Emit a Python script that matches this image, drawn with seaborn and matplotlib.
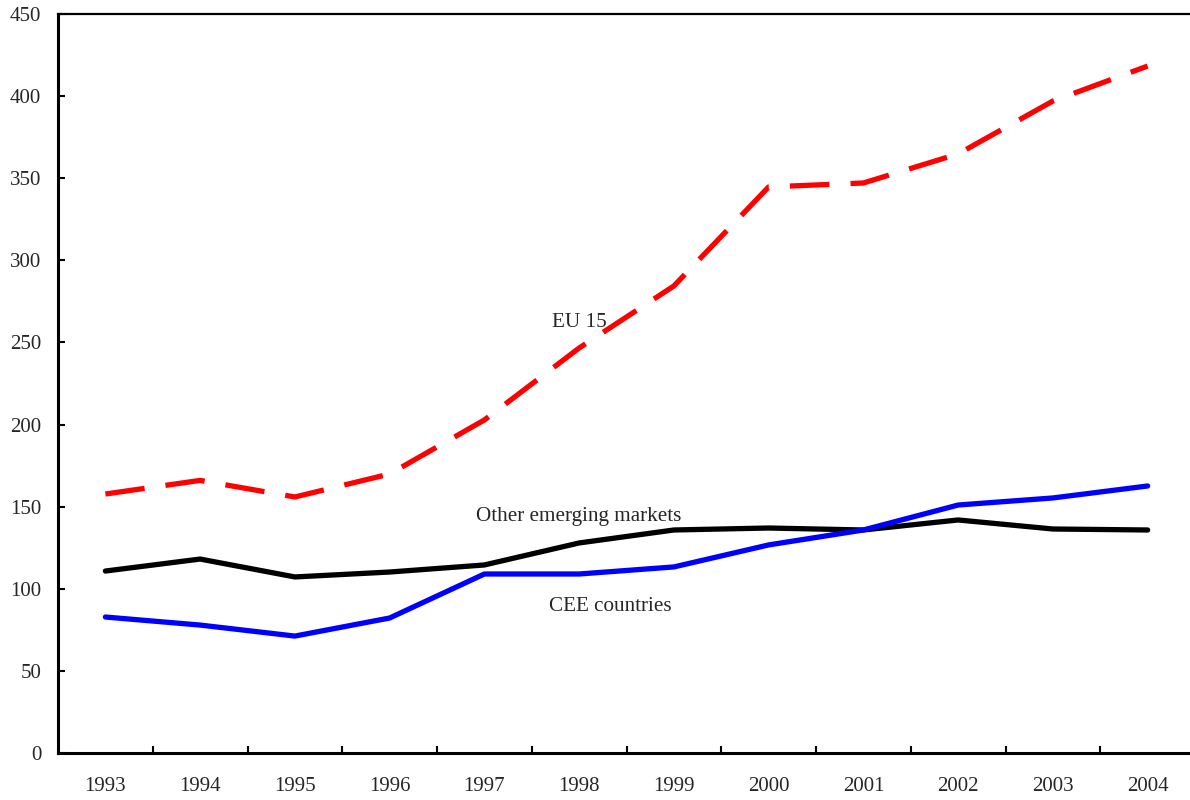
import numpy as np
import pandas as pd
import matplotlib
matplotlib.use("Agg")
import matplotlib.pyplot as plt
import seaborn as sns

years = ["1993", "1994", "1995", "1996", "1997", "1998",
         "1999", "2000", "2001", "2002", "2003", "2004"]
eu15 = [157.7, 166.0, 155.9, 169.9, 202.8, 246.6, 284.4, 344.7, 347.1, 364.8, 397.0, 418.3]
other_em = [110.8, 118.1, 107.2, 110.2, 114.5, 127.9, 135.8, 137.0, 135.8, 141.9, 136.4, 135.8]
cee = [82.8, 77.9, 71.2, 82.2, 109.0, 109.0, 113.3, 126.7, 135.8, 151.0, 155.3, 162.6]

df = pd.DataFrame({"pos": np.arange(len(years)), "year": years,
                   "EU 15": eu15, "Other emerging markets": other_em,
                   "CEE countries": cee})

sns.set_theme(style="white")
plt.rcParams["font.family"] = ["Liberation Serif", "DejaVu Serif"]

fig = plt.figure(figsize=(11.9, 8), dpi=100)
ax = fig.add_axes([58 / 1190, 47 / 800, 1137 / 1190, 739 / 800])

sns.lineplot(data=df, x="pos", y="EU 15", ax=ax, color="#ff0000", lw=3.8)
ax.lines[-1].set_dashes((7.5, 4))
sns.lineplot(data=df, x="pos", y="Other emerging markets", ax=ax, color="black", lw=3.8)
sns.lineplot(data=df, x="pos", y="CEE countries", ax=ax, color="#0000ff", lw=3.8)

ax.set_xlim(-0.5, len(years) - 0.5)
ax.set_ylim(0, 450)
ax.set_yticks(np.arange(0, 451, 50))
ax.set_xticks(df["pos"])
ax.set_xticklabels(years)
ax.set_xticks(np.arange(0.5, len(years) - 0.5, 1), minor=True)
ax.set_xlabel("")
ax.set_ylabel("")

ax.tick_params(axis="x", which="major", length=0, pad=17, labelsize=15)
ax.tick_params(axis="x", which="minor", direction="in", length=5, width=1.5,
               bottom=True, color="black")
ax.tick_params(axis="y", direction="in", length=5, width=1.5, left=True,
               pad=12, labelsize=15, color="black")

for side in ["left", "bottom"]:
    ax.spines[side].set_color("black")
    ax.spines[side].set_linewidth(2.2)
ax.spines["top"].set_color("black")
ax.spines["top"].set_linewidth(1.6)
ax.spines["right"].set_visible(False)

ax.text(5.0, 262, "EU 15", ha="center", va="center", fontsize=15.2)
ax.text(5.0, 144, "Other emerging markets", ha="center", va="center", fontsize=15.2)
ax.text(5.33, 89, "CEE countries", ha="center", va="center", fontsize=15.2)

fig.savefig("out.png", dpi=100)
